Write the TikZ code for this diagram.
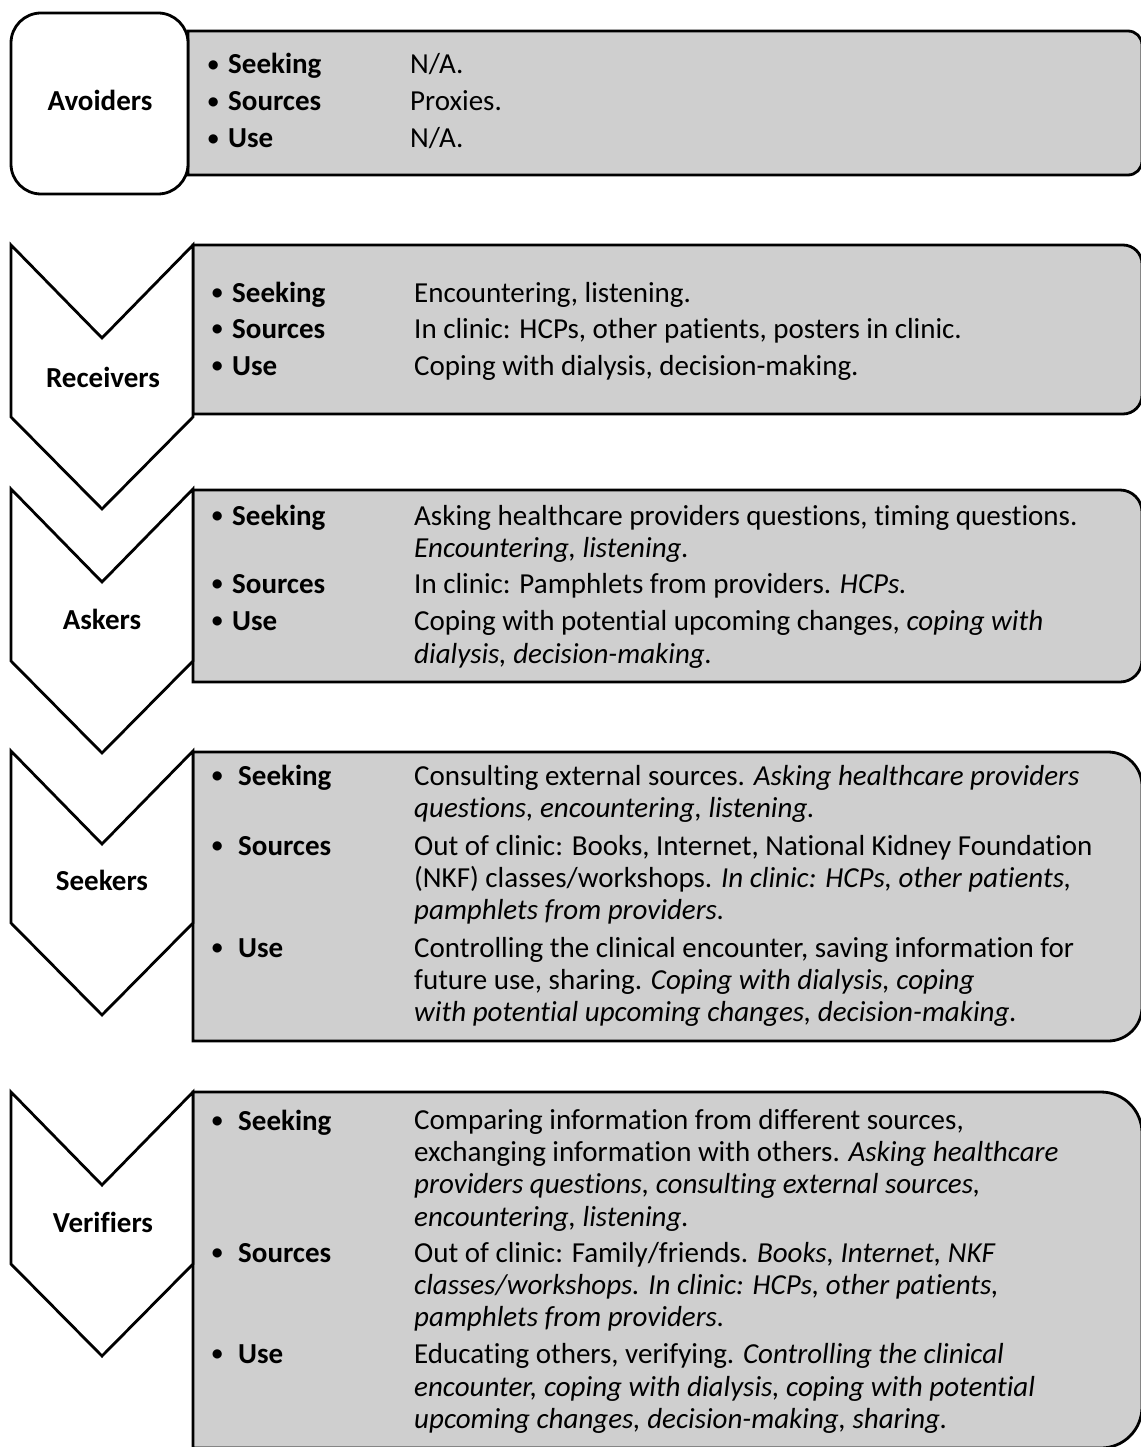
\documentclass[tikz,border=0pt]{standalone}
\usepackage{fontspec}
\setmainfont{Carlito}[Ligatures=NoCommon]
\definecolor{panelgrey}{RGB}{207,207,207}
\newcommand{\dotmark}{\raisebox{2.6pt}{\scalebox{.75}{•}}}

\begin{document}
\begin{tikzpicture}[x=1pt, y=-1pt,
  panel/.style={draw, fill=panelgrey, line width=2.8pt},
  chevron/.style={draw, fill=white, line width=2.8pt, line join=miter},
  group/.style={font=\fontsize{29}{32}\selectfont\bfseries, inner sep=0pt, anchor=base},
  item/.style={font=\fontsize{29}{32}\selectfont\bfseries, inner sep=0pt, anchor=base west},
  entry/.style={font=\fontsize{29}{32}\selectfont, inner sep=0pt, anchor=base west}
  ]
  \useasboundingbox (0,0) rectangle (1140,1447);
  % grey panels, rounded on the right side only
  \foreach \t/\b/\l/\r in {31/175/188/14, 245/414/193/19, 490/682/193/22, 752/1041/193/34, 1092/1448/193/41}
    \draw[panel] (\l,\b) -- (\l,\t) -- ({1142-\r},\t) arc[start angle=-90, end angle=0, radius=\r]
      -- (1142,{\b-\r}) arc[start angle=0, end angle=90, radius=\r] -- cycle;
  % group shapes
  \draw[chevron, rounded corners=30pt] (11,13) rectangle (188,194);
  \foreach \t in {245,489,751,1092}
    \draw[chevron] (11,\t) -- (102,\t+93) -- (193,\t) -- (193,\t+172) -- (102,\t+264) -- (11,\t+172) -- cycle;

  \node[group] (avoiders) at (100,111) {Avoiders};
  \node[group] (receivers) at (103,387) {Receivers};
  \node[group] (askers) at (102,629) {Askers};
  \node[group] (seekers) at (102,890) {Seekers};
  \node[group] (verifiers) at (103,1232) {Verifiers};

  % Avoiders
  \foreach \y/\w [count=\i] in {74/Seeking, 111/Sources, 148/Use}
    \node[item] (av-item\i) at (198,\y) {\makebox[30pt]{\dotmark}\w};
  \foreach \y/\t [count=\i] in {74/{N/A.}, 111/{Proxies.}, 148/{N/A.}}
    \node[entry] (av-text\i) at (410,\y) {\t};

  % Receivers
  \foreach \y/\w [count=\i] in {302/Seeking, 338/Sources, 375/Use}
    \node[item] (rec-item\i) at (202,\y) {\makebox[30pt]{\dotmark}\w};
  \foreach \y/\t [count=\i] in {302/{Encountering, listening.},
      338/{In clinic: HCPs, other patients, posters in clinic.},
      375/{Coping with dialysis, decision-making.}}
    \node[entry] (rec-text\i) at (414,\y) {\t};

  % Askers
  \foreach \y/\w [count=\i] in {525/Seeking, 593/Sources, 630/Use}
    \node[item] (ask-item\i) at (202,\y) {\makebox[30pt]{\dotmark}\w};
  \foreach \y/\t [count=\i] in {525/{Asking healthcare providers questions, timing questions.},
      557/{\textit{Encountering, listening.}},
      593/{In clinic: Pamphlets from providers. \textit{HCPs.}},
      630/{Coping with potential upcoming changes, \textit{coping with}},
      663/{\textit{dialysis, decision-making.}}}
    \node[entry] (ask-text\i) at (414,\y) {\t};

  % Seekers
  \foreach \y/\w [count=\i] in {785/Seeking, 855/Sources, 957/Use}
    \node[item] (seek-item\i) at (196,\y) {\makebox[42pt]{\dotmark}\w};
  \foreach \y/\t [count=\i] in {785/{Consulting external sources. \textit{Asking healthcare providers}},
      817/{\textit{questions, encountering, listening.}},
      855/{Out of clinic: Books, Internet, National Kidney Foundation},
      887/{(NKF) classes/workshops. \textit{In clinic: HCPs, other patients,}},
      919/{\textit{pamphlets from providers.}},
      957/{Controlling the clinical encounter, saving information for},
      989/{future use, sharing. \textit{Coping with dialysis, coping}},
      1021/{\textit{with potential upcoming changes, decision-making.}}}
    \node[entry] (seek-text\i) at (414,\y) {\t};

  % Verifiers
  \foreach \y/\w [count=\i] in {1130/Seeking, 1262/Sources, 1363/Use}
    \node[item] (ver-item\i) at (196,\y) {\makebox[42pt]{\dotmark}\w};
  \foreach \y/\t [count=\i] in {1129/{Comparing information from different sources,},
      1161/{exchanging information with others. \textit{Asking healthcare}},
      1193/{\textit{providers questions, consulting external sources,}},
      1226/{\textit{encountering, listening.}},
      1262/{Out of clinic: Family/friends. \textit{Books, Internet, NKF}},
      1294/{\textit{classes/workshops. In clinic: HCPs, other patients,}},
      1326/{\textit{pamphlets from providers.}},
      1363/{Educating others, verifying. \textit{Controlling the clinical}},
      1396/{\textit{encounter, coping with dialysis, coping with potential}},
      1428/{\textit{upcoming changes, decision-making, sharing.}}}
    \node[entry] (ver-text\i) at (414,\y) {\t};
\end{tikzpicture}
\end{document}
